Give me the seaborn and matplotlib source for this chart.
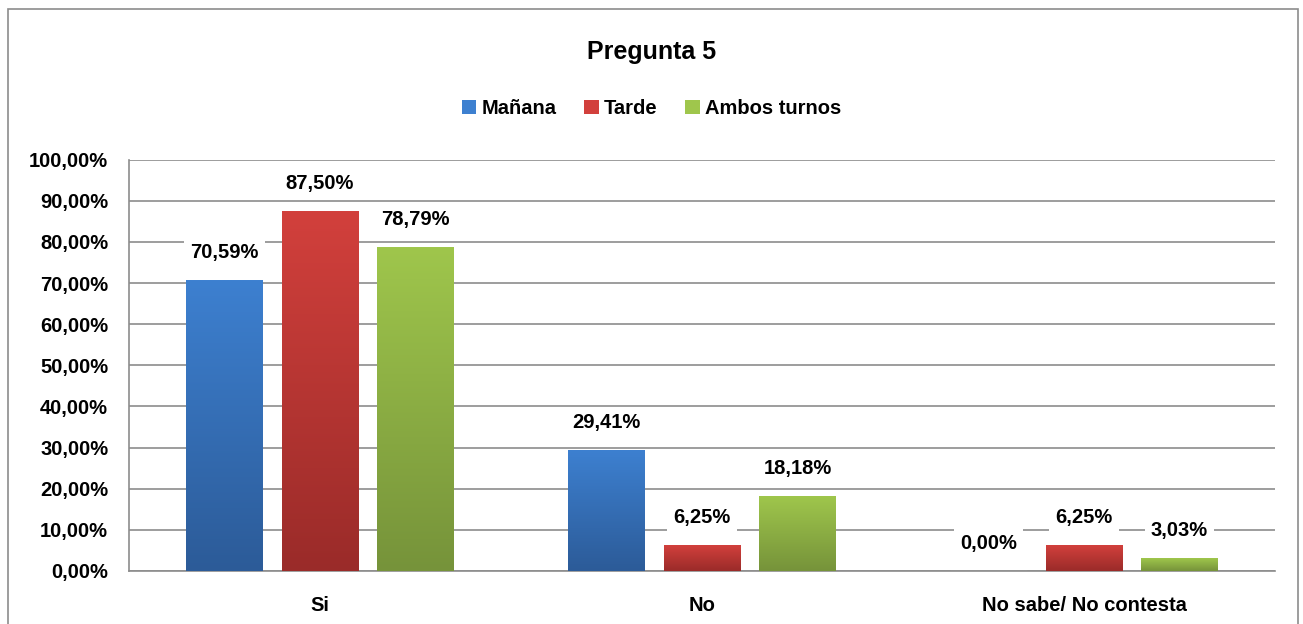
import numpy as np
import pandas as pd
import matplotlib
matplotlib.use("Agg")
import matplotlib.pyplot as plt
import seaborn as sns
from matplotlib.colors import LinearSegmentedColormap
from matplotlib.patches import Patch, Rectangle

categories = ["Si", "No", "No sabe/ No contesta"]
turnos = ["Mañana", "Tarde", "Ambos turnos"]
manana = [70.59, 29.41, 0.00]
tarde = [87.50, 6.25, 6.25]
ambos = [78.79, 18.18, 3.03]

# top / bottom colours for the gradient on each series
top_colors = ["#3d80d0", "#d2403c", "#9fc64c"]
bottom_colors = ["#2c5b98", "#9a2b29", "#76933a"]

df = pd.DataFrame({
    "categoria": categories * 3,
    "turno": [t for t in turnos for _ in categories],
    "valor": manana + tarde + ambos,
})

sns.set_style("white")
plt.rcParams["font.family"] = ["Liberation Sans", "DejaVu Sans"]
plt.rcParams["font.weight"] = "bold"
plt.rcParams["text.color"] = "black"
plt.rcParams["xtick.labelcolor"] = "black"
plt.rcParams["ytick.labelcolor"] = "black"

fs = 14.5

fig = plt.figure(figsize=(13.03, 6.24), dpi=100)
ax = fig.add_axes([0.099, 0.085, 0.8795, 0.659])

sns.barplot(data=df, x="categoria", y="valor", hue="turno", order=categories,
            hue_order=turnos, palette=top_colors, width=0.75, gap=0.2,
            legend=False, ax=ax, zorder=2)

ax.set_ylim(0, 100)
ax.set_yticks(np.arange(0, 101, 10))
ax.set_yticklabels([f"{v:.2f}%".replace(".", ",") for v in np.arange(0, 101, 10)],
                   fontsize=fs, fontweight="bold")
ax.set_xticklabels(categories, fontsize=fs, fontweight="bold")
ax.set_xlabel("")
ax.set_ylabel("")
ax.grid(axis="y", color="#8c8c8c", linewidth=1.2, zorder=0)
ax.set_axisbelow(True)
for s in ["top", "right"]:
    ax.spines[s].set_visible(False)
for s in ["left", "bottom"]:
    ax.spines[s].set_color("#8c8c8c")
    ax.spines[s].set_linewidth(1.2)
ax.tick_params(axis="y", length=6, color="#8c8c8c", width=1.2, pad=9)
ax.tick_params(axis="x", length=0, pad=18)

# gradient fill per bar + value labels
series_vals = [manana, tarde, ambos]
for i, p in enumerate(list(ax.patches)):
    s = i // len(categories)
    c = i % len(categories)
    x0, w, h = p.get_x(), p.get_width(), p.get_height()
    if h > 0:
        cmap = LinearSegmentedColormap.from_list("g", [bottom_colors[s], top_colors[s]])
        grad = np.linspace(0, 1, 256).reshape(-1, 1)
        ax.imshow(grad, extent=[x0, x0 + w, 0, h], origin="lower", cmap=cmap,
                  aspect="auto", zorder=3)
        p.set_visible(False)
    v = series_vals[s][c]
    ax.annotate(f"{v:.2f}%".replace(".", ","), (x0 + w / 2, h), xytext=(0, 20),
                textcoords="offset points", ha="center", va="center",
                fontsize=fs, fontweight="bold", zorder=5,
                bbox=dict(boxstyle="square,pad=0.3", fc="white", ec="none"))
ax.set_xlim(-0.5, 2.5)
ax.set_ylim(0, 100)

fig.text(0.5, 0.917, "Pregunta 5", ha="center", va="center",
         fontsize=18, fontweight="bold")
handles = [Patch(facecolor=c, edgecolor="none") for c in top_colors]
fig.legend(handles, turnos, loc="center", bbox_to_anchor=(0.5, 0.826), ncol=3,
           frameon=False, handlelength=0.7, handleheight=0.7,
           handletextpad=0.25, columnspacing=1.4, prop={"weight": "bold", "size": fs})

fig.add_artist(Rectangle((0.006, -0.01), 0.99, 0.995, transform=fig.transFigure,
                         fill=False, edgecolor="#8c8c8c", linewidth=1.2))

fig.savefig("out.png", dpi=100, facecolor="white")
